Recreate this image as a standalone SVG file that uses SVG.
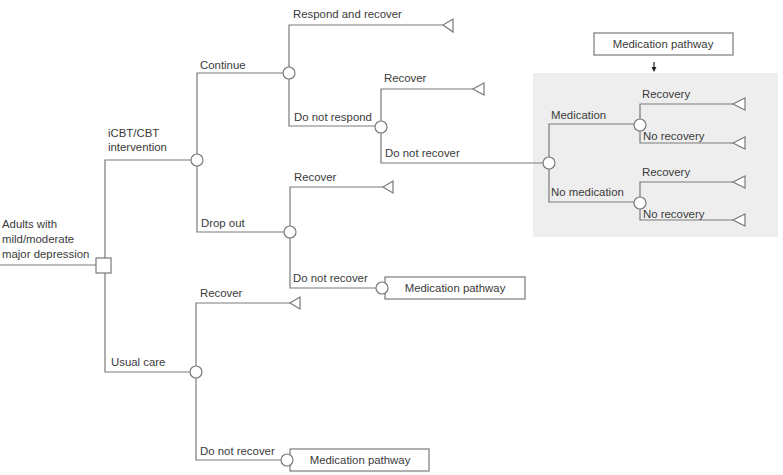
<svg xmlns="http://www.w3.org/2000/svg" width="783" height="475" viewBox="0 0 783 475">
<defs>
<style>
.ln{fill:none;stroke:#7a7a7a;stroke-width:1.2}
.ch{fill:#fff;stroke:#7a7a7a;stroke-width:1.2}
.tr{fill:#fff;stroke:#7a7a7a;stroke-width:1.2}
.bx{fill:#fff;stroke:#7a7a7a;stroke-width:1.2}
text{font-family:"Liberation Sans",Arial,sans-serif;font-size:11.4px;fill:#3a3a3a}
.c{text-anchor:middle}
</style>
</defs>
<rect x="533" y="73" width="245" height="164" fill="#eeeeee"/>
<g id="connectors">
<path class="ln" d="M0,265 H96"/>
<path class="ln" d="M105,258 V160 H191 M105,272 V372 H190"/>
<path class="ln" d="M197,154 V73 H283 M197,166 V232 H284"/>
<path class="ln" d="M289,67 V25 H443 M289,79 V126 H375"/>
<path class="ln" d="M381,121 V89 H473 M381,133 V163 H543"/>
<path class="ln" d="M549,157 V124 H634 M549,169 V202 H634"/>
<path class="ln" d="M640,119 V104 H733 M640,131 V143 H733"/>
<path class="ln" d="M640,197 V182 H733 M640,209 V220 H733"/>
<path class="ln" d="M290,226 V187 H383 M290,238 V288 H376"/>
<path class="ln" d="M196,366 V303 H290 M196,378 V460 H281"/>
<path d="M654,62 V68" stroke="#222" stroke-width="1.2"/>
<polygon points="651.5,67 656.5,67 654,72" fill="#222"/>
</g>
<g id="root"><rect class="bx" x="96" y="258" width="15" height="15"/>
<text x="2" y="228">Adults with</text><text x="2" y="243">mild/moderate</text><text x="2" y="258">major depression</text></g>
<g id="icbt"><circle class="ch" cx="197" cy="160" r="6"/><text x="108" y="137">iCBT/CBT</text><text x="108" y="151">intervention</text></g>
<g id="usual"><circle class="ch" cx="196" cy="372" r="6"/><text x="111" y="366">Usual care</text></g>
<g id="continue"><circle class="ch" cx="289" cy="73" r="6"/><text x="200" y="69">Continue</text></g>
<g id="dropout"><circle class="ch" cx="290" cy="232" r="6"/><text x="201" y="227">Drop out</text></g>
<g id="respond"><polygon class="tr" points="443,25 453,19 453,32"/><text x="293" y="18">Respond and recover</text></g>
<g id="notrespond"><circle class="ch" cx="381" cy="127" r="6"/><text x="294" y="121">Do not respond</text></g>
<g id="recover1"><polygon class="tr" points="473,89 484,83 484,95"/><text x="384" y="82">Recover</text></g>
<g id="notrecover1"><text x="385" y="157">Do not recover</text></g>
<g id="medpath-top"><rect class="bx" x="594" y="33" width="139" height="22"/><text class="c" x="663" y="48">Medication pathway</text></g>
<g id="medchoice"><circle class="ch" cx="549" cy="163" r="6"/></g>
<g id="medication"><circle class="ch" cx="640" cy="125" r="6"/><text x="551" y="119">Medication</text></g>
<g id="nomedication"><circle class="ch" cx="640" cy="203" r="6"/><text x="551" y="196">No medication</text></g>
<g id="rec1"><polygon class="tr" points="733,104 745,98 745,110"/><text x="642" y="98">Recovery</text></g>
<g id="norec1"><polygon class="tr" points="733,143 745,137 745,149"/><text x="643" y="140">No recovery</text></g>
<g id="rec2"><polygon class="tr" points="733,182 745,176 745,188"/><text x="642" y="176">Recovery</text></g>
<g id="norec2"><polygon class="tr" points="733,220 745,214 745,226"/><text x="643" y="218">No recovery</text></g>
<g id="recover2"><polygon class="tr" points="383,187 393,181 393,193"/><text x="294" y="181">Recover</text></g>
<g id="notrecover2"><rect class="bx" x="385" y="277" width="140" height="22"/><circle class="ch" cx="382" cy="288" r="6"/><text class="c" x="455" y="292">Medication pathway</text><text x="293" y="282">Do not recover</text></g>
<g id="recover3"><polygon class="tr" points="290,303 300,297 300,309"/><text x="200" y="297">Recover</text></g>
<g id="notrecover3"><rect class="bx" x="290" y="449" width="139" height="22"/><circle class="ch" cx="287" cy="460" r="6"/><text class="c" x="360" y="464">Medication pathway</text><text x="200" y="455">Do not recover</text></g>
</svg>
